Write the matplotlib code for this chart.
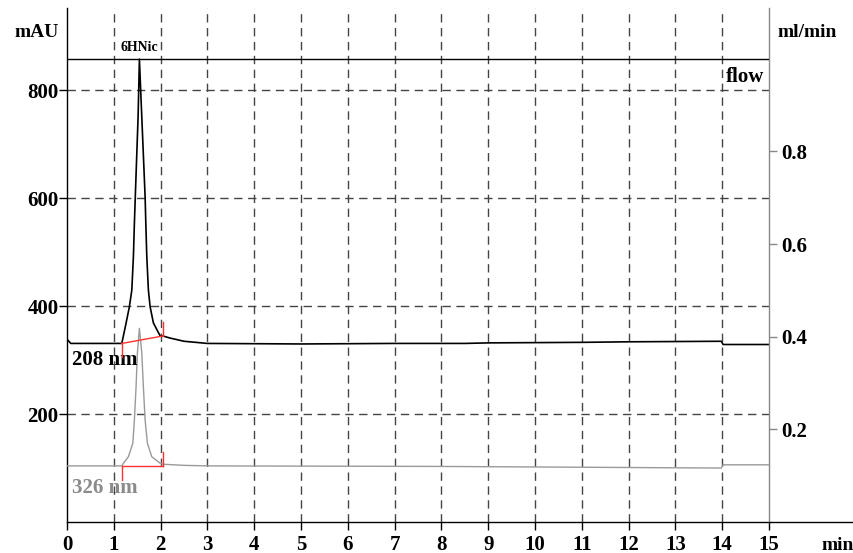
import matplotlib
matplotlib.use("Agg")
import matplotlib.pyplot as plt
from matplotlib.lines import Line2D

# ---------------- data ----------------
t208 = [0.0, 0.08, 0.5, 1.0, 1.171, 1.263, 1.333, 1.385, 1.419, 1.440, 1.462,
        1.519, 1.547, 1.598, 1.669, 1.684, 1.705, 1.739, 1.776, 1.846, 1.99,
        2.06, 2.2, 2.5, 3.0, 5.0, 7.0, 8.5, 9.0, 11.0, 12.0, 13.98, 14.02, 15.0]
a208 = [339, 331, 331, 331, 331, 369, 399, 430, 492, 554, 610,
        751, 858, 751, 603, 554, 492, 430, 399, 369, 345,
        344.5, 341, 335, 331, 330, 331, 331, 332, 333, 334, 335, 329, 329]

t326 = [0.0, 1.0, 1.171, 1.205, 1.312, 1.406, 1.440, 1.476, 1.504, 1.547,
        1.598, 1.632, 1.669, 1.718, 1.812, 1.99, 2.06, 2.5, 3.0, 8.0,
        13.98, 14.02, 15.0]
a326 = [104, 104, 104, 108.8, 121, 146, 189, 251, 313, 359,
        313, 251, 189, 146, 121, 109, 107, 105, 104, 103,
        100, 106, 106]

flow_t = [0.0, 15.0]
flow_v = [1.0, 1.0]

# integration marks: (start time, start mAU, end time, end mAU)
integ208 = (1.171, 331, 2.06, 345)
integ326 = (1.171, 104, 2.06, 104)

x_ticks = list(range(0, 16))
y_ticks = [200, 400, 600, 800]
y2_ticks = [0.2, 0.4, 0.6, 0.8]
y2_labels = ["0.2", "0.4", "0.6", "0.8"]
peak_name = "6HNic"
peak_time = 1.55

# ---------------- figure ----------------
W, H = 854, 553
fig = plt.figure(figsize=(W / 100, H / 100), dpi=100)
x0, x1 = 67, 769          # pixel positions of t=0 and t=15
y0, y1 = 522, 8           # pixel positions of axis bottom and top
ax = fig.add_axes([x0 / W, (H - y0) / H, (x1 - x0) / W, (y0 - y1) / H])
ymax = (y0 - y1) / 0.5395
ax.set_xlim(0, 15)
ax.set_ylim(0, ymax)

serif = "Liberation Serif"
tfont = dict(family=serif, weight="bold", size=15)

ax.set_xticks(x_ticks)
ax.set_xticklabels([str(v) for v in x_ticks], **tfont)
ax.set_yticks(y_ticks)
ax.set_yticklabels([str(v) for v in y_ticks], **tfont)
ax.tick_params(axis="x", direction="out", length=6, width=1, pad=3)
ax.tick_params(axis="y", direction="out", length=6, width=1, pad=0)

for s in ("top", "right"):
    ax.spines[s].set_visible(False)
ax.spines["left"].set_linewidth(1)
ax.spines["bottom"].set_linewidth(1)

# grid
ax.grid(True, color="#444444", linewidth=1.0, linestyle=(0, (6, 4)))
ax.set_axisbelow(True)
xgl = ax.xaxis.get_gridlines()
xgl[0].set_visible(False)
xgl[-1].set_visible(False)

# traces
ax.plot(t326, a326, color="#9a9a9a", linewidth=1.0, zorder=3)
ax.plot(t208, a208, color="black", linewidth=1.2, zorder=4)

# integration marks
tick_len = 26
for (ts, ys, te, ye) in (integ208, integ326):
    ax.plot([ts, te], [ys, ye], color="#ff3030", linewidth=1.0, zorder=5)
    ax.plot([ts, ts], [ys, ys - tick_len], color="#ff3030", linewidth=1.0, zorder=5)
    ax.plot([te, te], [ye, ye + tick_len], color="#ff3030", linewidth=1.0, zorder=5)

# labels on the plot
ax.text(0.1, 291, "208 nm", color="black", va="baseline", ha="left", **tfont)
ax.text(0.1, 54, "326 nm", color="#8a8a8a", va="baseline", ha="left", **tfont)
ax.text(peak_time, 873, peak_name, ha="center", va="baseline",
        family=serif, weight="bold", size=10, clip_on=False)

# right axis (flow)
ax2 = ax.twinx()
ax2.set_ylim(0, (y0 - y1) / 463.3)
ax2.plot(flow_t, flow_v, color="black", linewidth=1.0, zorder=4)
ax2.set_yticks(y2_ticks)
ax2.set_yticklabels(y2_labels, **tfont)
ax2.tick_params(axis="y", direction="out", length=6, width=1, pad=3,
                color="#888888")
for s in ("top", "left", "bottom"):
    ax2.spines[s].set_visible(False)
ax2.spines["right"].set_color("#888888")
ax2.spines["right"].set_linewidth(1)
ax2.text(14.08, 0.950, "flow", ha="left", va="baseline", **tfont)

# extension of the time axis
fig.add_artist(Line2D([x1 / W, 853 / W], [(H - y0) / H] * 2, color="black",
                      linewidth=1, transform=fig.transFigure))

# unit labels
ufont = dict(family=serif, weight="bold", size=14)
fig.text(36.5 / W, 1 - 36.7 / H, "mAU", ha="center", va="baseline", **ufont)
fig.text(806.7 / W, 1 - 37 / H, "ml/min", ha="center", va="baseline", **ufont)
fig.text(821.7 / W, 1 - 550 / H, "min", ha="left", va="baseline", **ufont)

fig.savefig("out.png", dpi=100)
